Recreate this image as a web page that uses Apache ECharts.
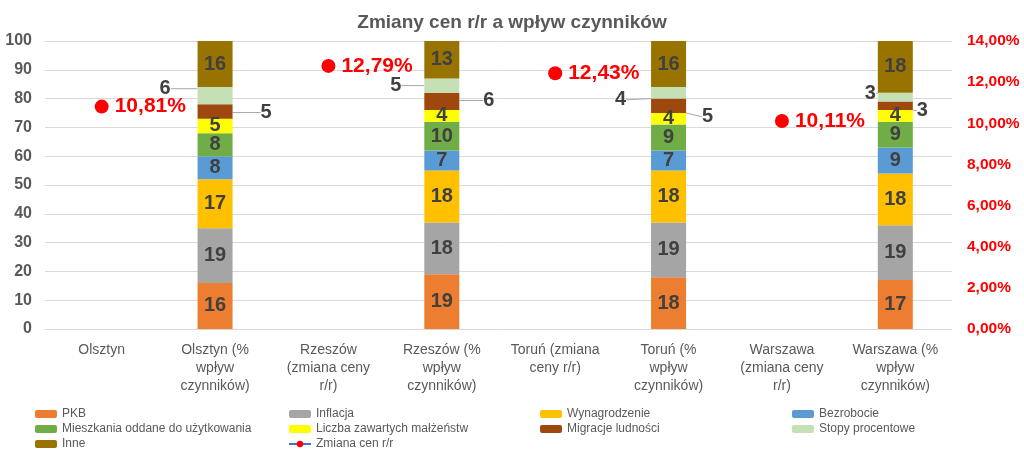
<!DOCTYPE html>
<html>
<head>
<meta charset="utf-8">
<script src="https://cdn.jsdelivr.net/npm/echarts@6/dist/echarts.min.js"></script>
<style>
  html, body { margin: 0; padding: 0; background: #fff; }
  #container { width: 1024px; height: 458px; }
</style>
</head>
<body>
<div id="container"></div>
<script>
// kategorie osi X
var categories = ['Olsztyn', 'Olsztyn (% wpływ czynników)', 'Rzeszów (zmiana ceny r/r)', 'Rzeszów (% wpływ czynników)',
    'Toruń (zmiana ceny r/r)', 'Toruń (% wpływ czynników)', 'Warszawa (zmiana ceny r/r)', 'Warszawa (% wpływ czynników)'];
var tickLabels = ['Olsztyn', 'Olsztyn (%\nwpływ\nczynników)', 'Rzeszów\n(zmiana ceny\nr/r)', 'Rzeszów (%\nwpływ\nczynników)',
    'Toruń (zmiana\nceny r/r)', 'Toruń (%\nwpływ\nczynników)', 'Warszawa\n(zmiana ceny\nr/r)', 'Warszawa (%\nwpływ\nczynników)'];

// udział czynników: Olsztyn, Rzeszów, Toruń, Warszawa
var pkb = [16, 19, 18, 17];
var inflacja = [19, 18, 19, 19];
var wynagrodzenie = [17, 18, 18, 18];
var bezrobocie = [8, 7, 7, 9];
var mieszkania = [8, 10, 9, 9];
var malzenstwa = [5, 4, 4, 4];
var migracje = [5, 6, 5, 3];
var stopy = [6, 5, 4, 3];
var inne = [16, 13, 16, 18];

// zmiana cen r/r (%)
var zmianaCen = [10.81, 12.79, 12.43, 10.11];

var leftTicks = { min: 0, max: 100, interval: 10 };
var rightTicks = { min: 0, max: 14, interval: 2 };

// przesunięcia etykiet wyciągniętych poza słupek (px)
var stopyShift = [[-23, -7], [-19, 0], [-21, 7], [2, -4]];
var migracjeShift = [[24, 1], [20, -1], [12, 11], [0, 5]];

function toBars(arr) {
    var out = [];
    for (var i = 0; i < arr.length; i++) {
        out.push(null, arr[i]);
    }
    return out;
}

function toPoints(arr) {
    var out = [];
    for (var i = 0; i < arr.length; i++) {
        out.push(arr[i], null);
    }
    return out;
}

var labelStyle = {
    show: true,
    color: '#404040',
    fontSize: 20,
    fontWeight: 'bold',
    fontFamily: 'Liberation Sans'
};

function bar(name, values, color, outside) {
    var s = {
        name: name,
        type: 'bar',
        stack: 'all',
        barWidth: 35,
        data: toBars(values),
        itemStyle: { color: color },
        label: Object.assign({}, labelStyle),
        emphasis: { disabled: true }
    };
    if (outside) {
        s.label.position = outside.position;
        s.label.distance = 4;
        s.labelLine = { show: true, lineStyle: { color: '#a6a6a6', width: 1 } };
        s.labelLayout = function (p) {
            var sh = outside.shift[(p.dataIndex - 1) / 2];
            return { dx: sh[0], dy: sh[1] };
        };
    }
    return s;
}

var dom = document.getElementById('container');
var myChart = echarts.init(dom);

var legendText = { color: '#595959', fontSize: 12, fontFamily: 'Liberation Sans' };
function legendCol(left, names) {
    return {
        orient: 'vertical',
        left: left,
        top: 403,
        itemWidth: 22,
        itemHeight: 8,
        itemGap: 3,
        textStyle: legendText,
        data: names
    };
}

var option = {
    animation: false,
    title: {
        text: 'Zmiany cen r/r a wpływ czynników',
        left: 'center',
        top: 8,
        textStyle: { color: '#595959', fontSize: 19, fontWeight: 'bold', fontFamily: 'Liberation Sans' }
    },
    legend: [
        legendCol(30, ['PKB', 'Mieszkania oddane do użytkowania', 'Inne']),
        legendCol(283, ['Inflacja', 'Liczba zawartych małżeństw', 'Zmiana cen r/r']),
        legendCol(535, ['Wynagrodzenie', 'Migracje ludności']),
        legendCol(787, ['Bezrobocie', 'Stopy procentowe'])
    ],
    grid: { left: 45, right: 72, top: 41, bottom: 129 },
    xAxis: {
        type: 'category',
        data: categories,
        axisLine: { lineStyle: { color: '#d9d9d9' } },
        axisTick: { show: false },
        axisLabel: {
            interval: 0,
            margin: 12,
            color: '#595959',
            fontSize: 14,
            lineHeight: 18,
            fontFamily: 'Liberation Sans',
            formatter: function (v, i) { return tickLabels[i]; }
        }
    },
    yAxis: [{
        type: 'value',
        min: leftTicks.min,
        max: leftTicks.max,
        interval: leftTicks.interval,
        axisLabel: { color: '#595959', fontSize: 16, fontWeight: 'bold', fontFamily: 'Liberation Sans', margin: 13 },
        splitLine: { lineStyle: { color: '#d9d9d9' } }
    }, {
        type: 'value',
        min: rightTicks.min,
        max: rightTicks.max,
        interval: rightTicks.interval,
        axisLabel: {
            color: '#ff0000', fontSize: 15.5, fontWeight: 'bold', fontFamily: 'Liberation Sans', margin: 15,
            formatter: function (v) { return v.toFixed(2).replace('.', ',') + '%'; }
        },
        splitLine: { show: false }
    }],
    series: [
        bar('PKB', pkb, '#ED7D31'),
        bar('Inflacja', inflacja, '#A5A5A5'),
        bar('Wynagrodzenie', wynagrodzenie, '#FFC000'),
        bar('Bezrobocie', bezrobocie, '#5B9BD5'),
        bar('Mieszkania oddane do użytkowania', mieszkania, '#70AD47'),
        bar('Liczba zawartych małżeństw', malzenstwa, '#FFFF00'),
        bar('Migracje ludności', migracje, '#9E480E', { position: 'right', shift: migracjeShift }),
        bar('Stopy procentowe', stopy, '#C5E0B4', { position: 'left', shift: stopyShift }),
        bar('Inne', inne, '#997300'),
        {
            name: 'Zmiana cen r/r',
            type: 'line',
            yAxisIndex: 1,
            data: toPoints(zmianaCen),
            symbol: 'circle',
            symbolSize: 14,
            lineStyle: { color: '#4472C4', width: 2.5 },
            itemStyle: { color: '#ff0000' },
            emphasis: { disabled: true },
            label: {
                show: true,
                position: 'right',
                distance: 6,
                color: '#ff0000',
                fontSize: 21,
                fontWeight: 'bold',
                fontFamily: 'Liberation Sans',
                formatter: function (p) { return p.value.toFixed(2).replace('.', ',') + '%'; }
            }
        }
    ]
};

if (option && typeof option === 'object') {
    myChart.setOption(option, true);
}
</script>
</body>
</html>
